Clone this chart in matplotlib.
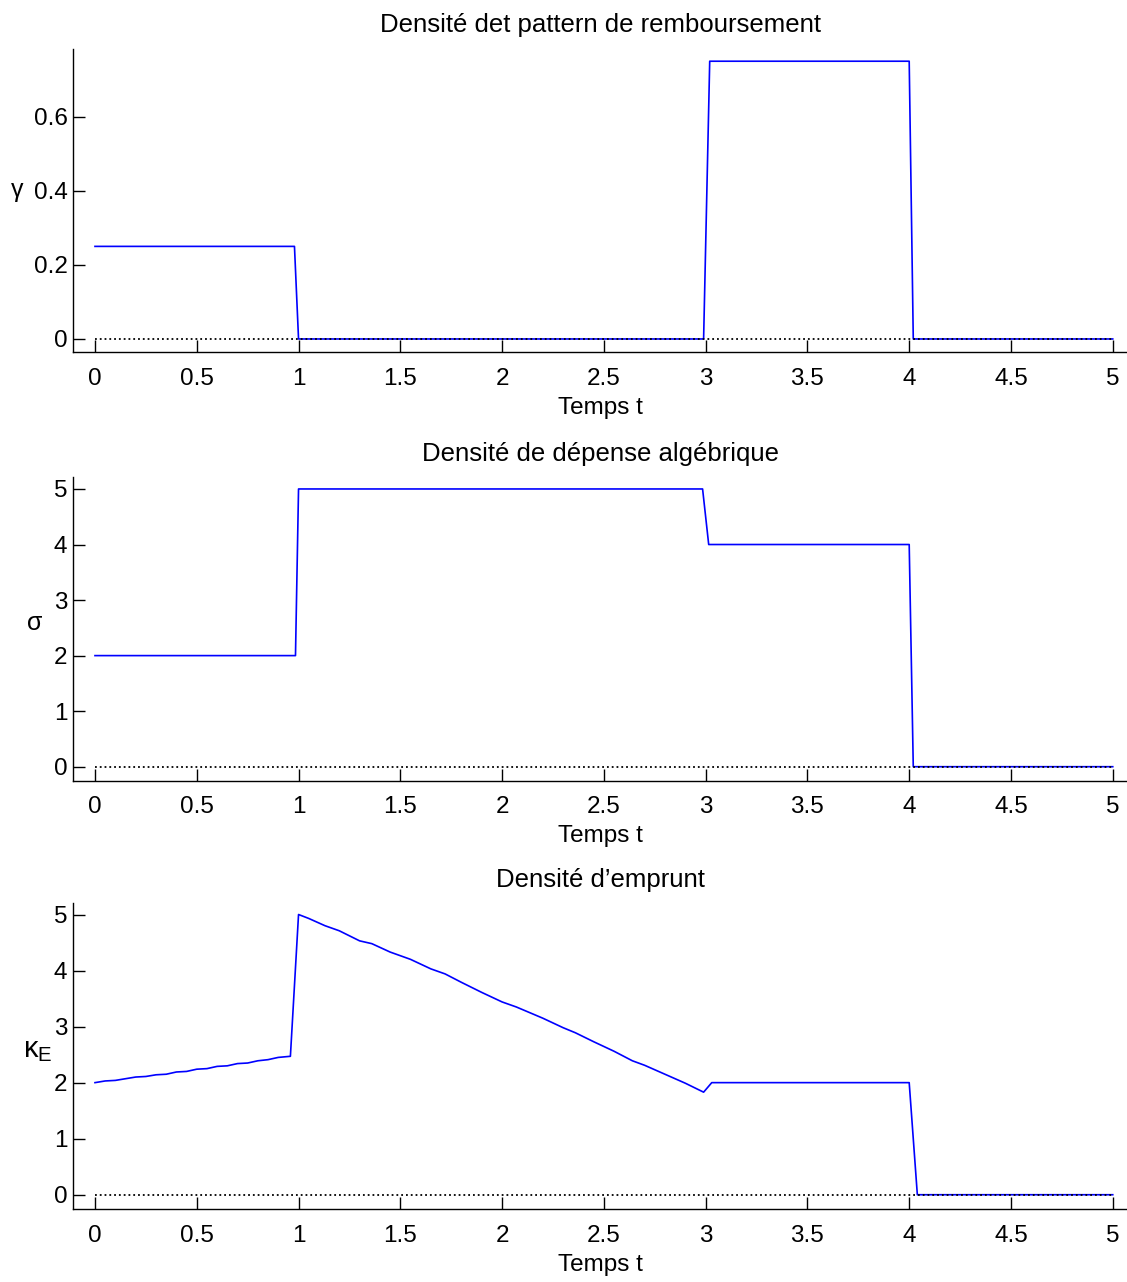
import numpy as np
import matplotlib
matplotlib.use('Agg')
import matplotlib.pyplot as plt

plt.rcParams['font.family'] = ['Liberation Sans', 'DejaVu Sans']
plt.rcParams['mathtext.fontset'] = 'custom'
plt.rcParams['mathtext.rm'] = 'Liberation Sans'
plt.rcParams['mathtext.it'] = 'Liberation Sans'

# gamma : densite du pattern de remboursement
t_gamma = [0, 0.98, 1.0, 2.99, 3.02, 4.0, 4.02, 5.0]
gamma = [0.25, 0.25, 0, 0, 0.75, 0.75, 0, 0]

# sigma : densite de depense algebrique
t_sigma = [0, 0.985, 1.0, 2.985, 3.015, 4.0, 4.02, 5.0]
sigma = [2, 2, 5, 5, 4, 4, 0, 0]

# kappa_E : densite d'emprunt
t_kappa = [0, 0.05, 0.1, 0.15, 0.2, 0.25, 0.3, 0.35, 0.4, 0.45, 0.5, 0.55,
           0.6, 0.65, 0.7, 0.75, 0.8, 0.85, 0.9, 0.96, 1.0,
           1.05, 1.13, 1.2, 1.3, 1.36, 1.45, 1.55, 1.65, 1.72, 1.8, 1.9,
           2.0, 2.07, 2.2, 2.3, 2.36, 2.45, 2.55, 2.64, 2.7, 2.8, 2.9, 2.99,
           3.03, 4.0, 4.04, 5.0]
kappa = [2.0, 2.03, 2.04, 2.07, 2.1, 2.11, 2.14, 2.15, 2.19, 2.2, 2.24, 2.25,
         2.29, 2.3, 2.34, 2.35, 2.39, 2.41, 2.45, 2.47, 5.0,
         4.93, 4.8, 4.71, 4.53, 4.48, 4.33, 4.2, 4.03, 3.94, 3.79, 3.61,
         3.44, 3.35, 3.15, 2.98, 2.89, 2.73, 2.56, 2.39, 2.31, 2.15, 1.99, 1.83,
         2.0, 2.0, 0, 0]

t_zero = [0, 5]
zero = [0, 0]

panels = [
    (t_gamma, gamma, 'Densité det pattern de remboursement', r'$\gamma$',
     [0, 0.2, 0.4, 0.6], ['0', '0.2', '0.4', '0.6'], (-0.036, 0.783)),
    (t_sigma, sigma, 'Densité de dépense algébrique', r'$\sigma$',
     [0, 1, 2, 3, 4, 5], ['0', '1', '2', '3', '4', '5'], (-0.252, 5.21)),
    (t_kappa, kappa, 'Densité d\u2019emprunt', r'$\kappa_{\mathrm{E}}$',
     [0, 1, 2, 3, 4, 5], ['0', '1', '2', '3', '4', '5'], (-0.26, 5.2)),
]
xticks = [0, 0.5, 1, 1.5, 2, 2.5, 3, 3.5, 4, 4.5, 5]
xticklabels = ['0', '0.5', '1', '1.5', '2', '2.5', '3', '3.5', '4', '4.5', '5']

W, H = 1127, 1282
fig = plt.figure(figsize=(W / 100, H / 100), dpi=100)
# (top, bottom) of each axes box in pixels
boxes = [(49, 352.3), (477.3, 780.7), (903.3, 1209.3)]
ylab_pos = [(-0.046, 0.53), (-0.028, 0.52), (-0.02, 0.52)]
ylab_size = [18, 18, 21]
left_px = 73

for (t, y, title, ylab, yt, ytl, ylim), (top, bot), lp, ls in zip(panels, boxes, ylab_pos, ylab_size):
    ax = fig.add_axes([left_px / W, 1 - bot / H, (W - left_px) / W, (bot - top) / H])
    ax.plot(t, y, color='#0000ff', lw=1.2)
    ax.plot(t_zero, zero, color='black', lw=1.3, ls=':')
    ax.set_xlim(-0.108, 5.07)
    ax.set_ylim(*ylim)
    ax.set_xticks(xticks)
    ax.set_xticklabels(xticklabels)
    ax.set_yticks(yt)
    ax.set_yticklabels(ytl)
    ax.spines['top'].set_visible(False)
    ax.spines['right'].set_visible(False)
    ax.spines['left'].set_linewidth(1.0)
    ax.spines['bottom'].set_linewidth(1.0)
    ax.tick_params(direction='in', length=8.5, width=1.0, labelsize=17.5)
    ax.tick_params(axis='x', pad=11)
    ax.tick_params(axis='y', pad=4)
    ax.set_title(title, fontsize=18.5, pad=12)
    ax.set_xlabel('Temps t', fontsize=17.5, labelpad=5)
    ax.set_ylabel(ylab, fontsize=ls, rotation=0, ha='right', va='center')
    ax.yaxis.set_label_coords(*lp)

fig.savefig('out.png', dpi=100)
